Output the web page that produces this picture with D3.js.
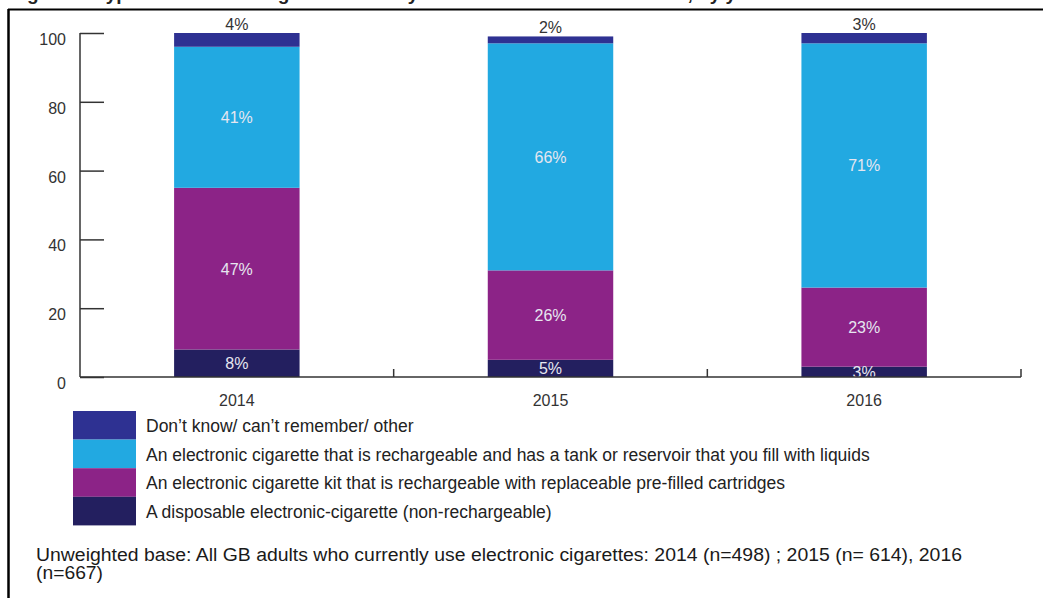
<!DOCTYPE html>
<html>
<head>
<meta charset="utf-8">
<script src="https://cdn.jsdelivr.net/npm/d3@7"></script>
<style>
  body { margin: 0; background: #fff; }
  svg { display: block; font-family: "Liberation Sans", Arial, sans-serif; }
</style>
</head>
<body>
<svg id="chart" width="1043" height="598"></svg>
<script>
const years = ["2014", "2015", "2016"];
const seriesNames = [
  "A disposable electronic-cigarette (non-rechargeable)",
  "An electronic cigarette kit that is rechargeable with replaceable pre-filled cartridges",
  "An electronic cigarette that is rechargeable and has a tank or reservoir that you fill with liquids",
  "Don\u2019t know/ can\u2019t remember/ other"
];
const disposable = [8, 5, 3];
const kit = [47, 26, 23];
const tank = [41, 66, 71];
const dontKnow = [4, 2, 3];
const yTicks = [0, 20, 40, 60, 80, 100];
const colors = ["#231f5f", "#8c2387", "#22a9e1", "#2e3192"];
const footnote1 = "Unweighted base: All GB adults who currently use electronic cigarettes: 2014 (n=498) ; 2015 (n= 614),  2016";
const footnote2 = "(n=667)";
const titleText = "Figure 3: Type of electronic cigarette used by current users in Great Britain, by year";

const seriesValues = [disposable, kit, tank, dontKnow];
const rows = years.map((y, i) => {
  const r = { year: y };
  seriesNames.forEach((s, k) => r[s] = seriesValues[k][i]);
  return r;
});
const stacked = d3.stack().keys(seriesNames)(rows);

const svg = d3.select("#chart");

// clipped title (only descenders visible, as in the reference)
svg.append("text").attr("x", 10).attr("y", 0)
  .attr("font-size", 19).attr("font-weight", "bold").attr("fill", "#222")
  .text(titleText);
// frame
svg.append("line").attr("x1", 8).attr("x2", 1043).attr("y1", 9.5).attr("y2", 9.5)
  .attr("stroke", "#000").attr("stroke-width", 2);
svg.append("line").attr("x1", 8.5).attr("x2", 8.5).attr("y1", 9).attr("y2", 598)
  .attr("stroke", "#000").attr("stroke-width", 2.5);

const x = d3.scaleBand().domain(years).range([80, 1021]).paddingInner(0.6).paddingOuter(0.3);
const y = d3.scaleLinear().domain([0, 100]).range([377, 33]);

// bars
const g = svg.append("g");
stacked.forEach((layer, k) => {
  g.selectAll(null).data(layer).enter().append("rect")
    .attr("x", d => x(d.data.year))
    .attr("width", x.bandwidth())
    .attr("y", d => y(d[1]))
    .attr("height", d => y(d[0]) - y(d[1]))
    .attr("fill", colors[k]);
});

// labels
stacked.forEach((layer, k) => {
  const top = k === stacked.length - 1;
  g.selectAll(null).data(layer).enter().append("text")
    .attr("x", d => x(d.data.year) + x.bandwidth() / 2)
    .attr("y", d => top ? y(d[1]) - 3 : (y(d[0]) + y(d[1])) / 2 + 6)
    .attr("text-anchor", "middle")
    .attr("font-size", 16)
    .attr("fill", top ? "#333" : "#e6e6f0")
    .text(d => (d[1] - d[0]) + "%");
});

// y axis
const yAxis = svg.append("g").attr("transform", "translate(80,0)")
  .call(d3.axisRight(y).tickValues(yTicks).tickSize(24).tickFormat(""));
yAxis.select(".domain").remove();
yAxis.selectAll(".tick line").attr("stroke", "#333").attr("stroke-width", 1.5);
svg.append("line").attr("x1", 80).attr("x2", 80).attr("y1", 33).attr("y2", 377)
  .attr("stroke", "#333").attr("stroke-width", 1.5);
svg.append("g").selectAll("text").data(yTicks).enter().append("text")
  .attr("x", 66).attr("y", d => y(d) + 12)
  .attr("text-anchor", "end").attr("font-size", 16).attr("fill", "#333")
  .text(d => d);

// x axis
svg.append("line").attr("x1", 80).attr("x2", 1021).attr("y1", 377).attr("y2", 377)
  .attr("stroke", "#333").attr("stroke-width", 1.5);
const step = x.step();
const bounds = years.map(yy => x(yy) - step * 0.3 + step);
svg.append("g").selectAll("line").data(bounds).enter().append("line")
  .attr("x1", d => d).attr("x2", d => d).attr("y1", 377).attr("y2", 369)
  .attr("stroke", "#333").attr("stroke-width", 1.5);
svg.append("g").selectAll("text").data(years).enter().append("text")
  .attr("x", d => x(d) + x.bandwidth() / 2).attr("y", 406)
  .attr("text-anchor", "middle").attr("font-size", 16).attr("fill", "#333")
  .text(d => d);

// legend
const legendOrder = [3, 2, 1, 0];
const lg = svg.append("g");
legendOrder.forEach((k, i) => {
  lg.append("rect").attr("x", 73).attr("y", 411 + i * 28.6).attr("width", 63).attr("height", 28.6)
    .attr("fill", colors[k]);
  lg.append("text").attr("x", 146).attr("y", 432 + i * 28.6)
    .attr("font-size", 17.5).attr("fill", "#222").text(seriesNames[k]);
});

// footnote
svg.append("text").attr("x", 36).attr("y", 561).attr("font-size", 18).attr("fill", "#1a1a1a")
  .attr("textLength", 926).attr("lengthAdjust", "spacingAndGlyphs").text(footnote1);
svg.append("text").attr("x", 36).attr("y", 579).attr("font-size", 18).attr("fill", "#1a1a1a")
  .attr("textLength", 67).attr("lengthAdjust", "spacingAndGlyphs").text(footnote2);
</script>
</body>
</html>
